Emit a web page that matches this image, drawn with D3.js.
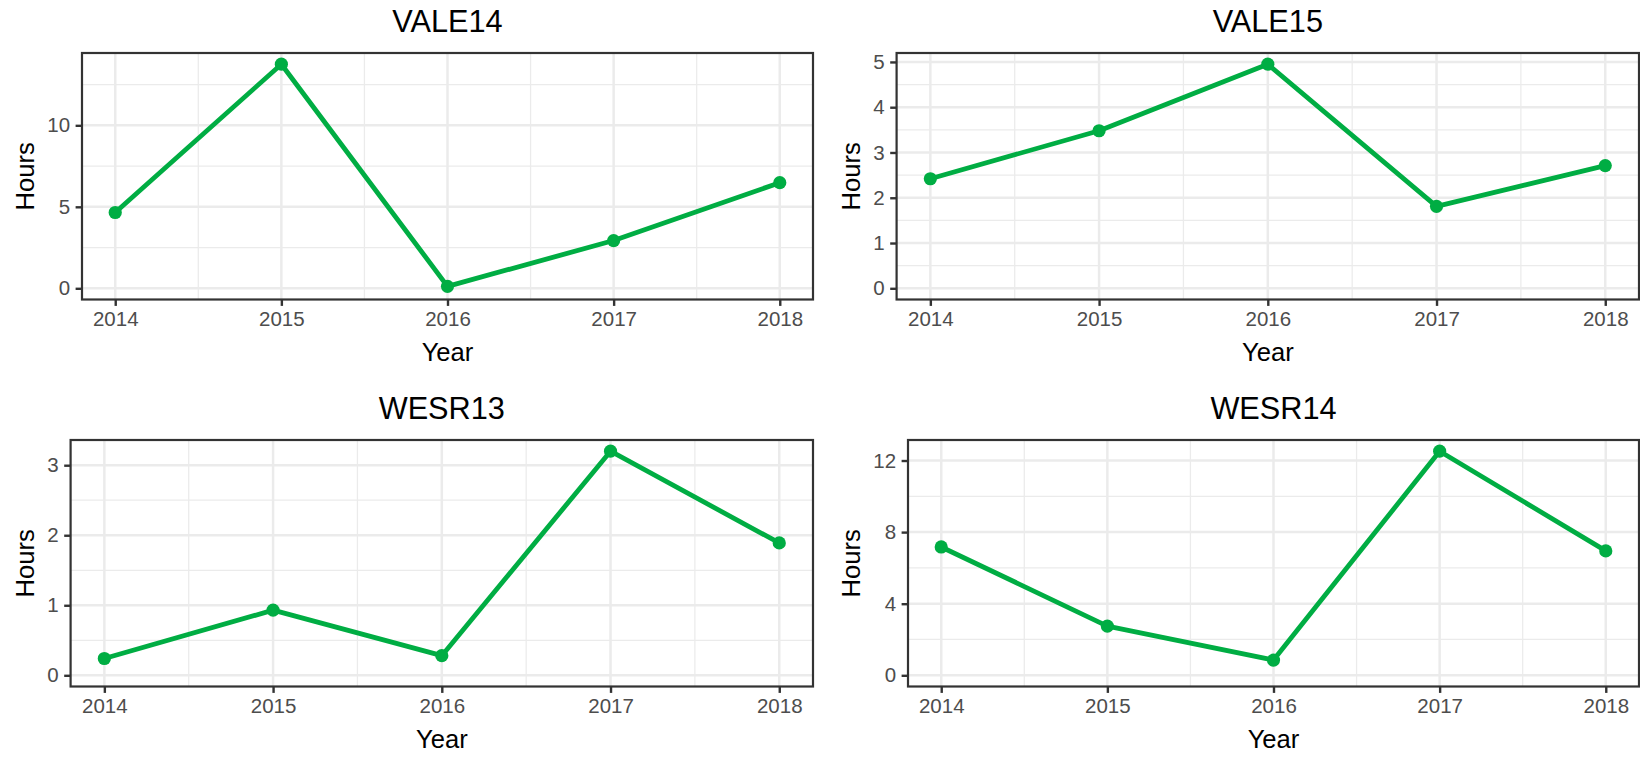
<!DOCTYPE html>
<html>
<head>
<meta charset="utf-8">
<script src="https://cdn.jsdelivr.net/npm/d3@7"></script>
<style>
  html, body { margin: 0; padding: 0; background: #ffffff; }
  svg { display: block; font-family: "Liberation Sans", Arial, sans-serif; }
</style>
</head>
<body>
<svg id="chart" width="1640" height="757"></svg>
<script>
// ---- Data ----
const years = [2014, 2015, 2016, 2017, 2018];
const siteNames = ["VALE14", "VALE15", "WESR13", "WESR14"];
const vale14Hours = [4.65, 13.75, 0.12, 2.93, 6.48];
const vale15Hours = [2.42, 3.48, 4.95, 1.81, 2.71];
const wesr13Hours = [0.24, 0.93, 0.28, 3.20, 1.89];
const wesr14Hours = [7.17, 2.75, 0.85, 12.52, 6.95];
const vale14Ticks = [0, 5, 10];
const vale15Ticks = [0, 1, 2, 3, 4, 5];
const wesr13Ticks = [0, 1, 2, 3];
const wesr14Ticks = [0, 4, 8, 12];
const xLabel = "Year";
const yLabel = "Hours";

// ---- Layout (panel boxes) ----
const panels = [
  { name: siteNames[0], values: vale14Hours, ticks: vale14Ticks, left: 82,    right: 813,  top: 53,  bottom: 299.5, colX: 0 },
  { name: siteNames[1], values: vale15Hours, ticks: vale15Ticks, left: 896.6, right: 1639, top: 53,  bottom: 299.5, colX: 826 },
  { name: siteNames[2], values: wesr13Hours, ticks: wesr13Ticks, left: 70.6,  right: 813,  top: 440, bottom: 686.5, colX: 0 },
  { name: siteNames[3], values: wesr14Hours, ticks: wesr14Ticks, left: 908,   right: 1639, top: 440, bottom: 686.5, colX: 826 }
];

const green = "#00AD43";
const gridCol = "#EBEBEB";
const dark = "#333333";
const tickTextCol = "#4D4D4D";

const svg = d3.select("#chart");
svg.append("rect").attr("width", 1640).attr("height", 757).attr("fill", "#fff");

panels.forEach(p => {
  const g = svg.append("g");
  const xMin = d3.min(years), xMax = d3.max(years);
  const xPad = (xMax - xMin) * 0.05;
  const x = d3.scaleLinear().domain([xMin - xPad, xMax + xPad]).range([p.left, p.right]);

  const yLo = Math.min(0, d3.min(p.values));
  const yHi = d3.max(p.values);
  const yPad = (yHi - yLo) * 0.05;
  const y = d3.scaleLinear().domain([yLo - yPad, yHi + yPad]).range([p.bottom, p.top]);

  // minor breaks: midpoints between majors
  const step = p.ticks[1] - p.ticks[0];
  const yMinor = [];
  for (let v = p.ticks[0] - step / 2; v <= y.domain()[1]; v += step) {
    if (v >= y.domain()[0] && !p.ticks.includes(v)) yMinor.push(v);
  }
  const xMinor = [];
  for (let i = 0; i < years.length - 1; i++) xMinor.push((years[i] + years[i + 1]) / 2);

  // minor gridlines
  g.selectAll(".ymin").data(yMinor).enter().append("line")
    .attr("x1", p.left).attr("x2", p.right)
    .attr("y1", d => y(d)).attr("y2", d => y(d))
    .attr("stroke", gridCol).attr("stroke-width", 1.25);
  g.selectAll(".xmin").data(xMinor).enter().append("line")
    .attr("y1", p.top).attr("y2", p.bottom)
    .attr("x1", d => x(d)).attr("x2", d => x(d))
    .attr("stroke", gridCol).attr("stroke-width", 1.25);
  // major gridlines
  g.selectAll(".ymaj").data(p.ticks).enter().append("line")
    .attr("x1", p.left).attr("x2", p.right)
    .attr("y1", d => y(d)).attr("y2", d => y(d))
    .attr("stroke", gridCol).attr("stroke-width", 2.5);
  g.selectAll(".xmaj").data(years).enter().append("line")
    .attr("y1", p.top).attr("y2", p.bottom)
    .attr("x1", d => x(d)).attr("x2", d => x(d))
    .attr("stroke", gridCol).attr("stroke-width", 2.5);

  // data line & points
  const pts = years.map((yr, i) => [yr, p.values[i]]);
  g.append("path").datum(pts)
    .attr("fill", "none").attr("stroke", green).attr("stroke-width", 4.8)
    .attr("stroke-linejoin", "round")
    .attr("d", d3.line().x(d => x(d[0])).y(d => y(d[1])));
  g.selectAll(".pt").data(pts).enter().append("circle")
    .attr("cx", d => x(d[0])).attr("cy", d => y(d[1])).attr("r", 6.6)
    .attr("fill", green);

  // panel border
  g.append("rect")
    .attr("x", p.left).attr("y", p.top)
    .attr("width", p.right - p.left).attr("height", p.bottom - p.top)
    .attr("fill", "none").attr("stroke", dark).attr("stroke-width", 2.2);

  // axes
  const xAxis = d3.axisBottom(x).tickValues(years).tickFormat(d3.format("d"))
    .tickSize(6.4).tickPadding(5.5);
  const gx = g.append("g").attr("transform", `translate(0,${p.bottom})`).call(xAxis);
  gx.select(".domain").remove();
  gx.selectAll(".tick line").attr("stroke", dark).attr("stroke-width", 2.4);
  gx.selectAll(".tick text").attr("fill", tickTextCol)
    .style("font-size", "20.5px").style("font-family", "Liberation Sans, Arial, sans-serif");

  const yAxis = d3.axisLeft(y).tickValues(p.ticks).tickFormat(d3.format("d"))
    .tickSize(6.4).tickPadding(5.5);
  const gy = g.append("g").attr("transform", `translate(${p.left},0)`).call(yAxis);
  gy.select(".domain").remove();
  gy.selectAll(".tick line").attr("stroke", dark).attr("stroke-width", 2.4);
  gy.selectAll(".tick text").attr("fill", tickTextCol)
    .style("font-size", "20.5px").style("font-family", "Liberation Sans, Arial, sans-serif");

  // title
  g.append("text")
    .attr("x", (p.left + p.right) / 2).attr("y", p.top - 21)
    .attr("text-anchor", "middle").attr("fill", "#000")
    .style("font-size", "30.7px").text(p.name);

  // x label
  g.append("text")
    .attr("x", (p.left + p.right) / 2).attr("y", p.bottom + 61.5)
    .attr("text-anchor", "middle").attr("fill", "#000")
    .style("font-size", "25.6px").text(xLabel);

  // y label
  g.append("text")
    .attr("transform", `translate(${p.colX + 33.5},${(p.top + p.bottom) / 2}) rotate(-90)`)
    .attr("text-anchor", "middle").attr("fill", "#000")
    .style("font-size", "25.6px").text(yLabel);
});
</script>
</body>
</html>
